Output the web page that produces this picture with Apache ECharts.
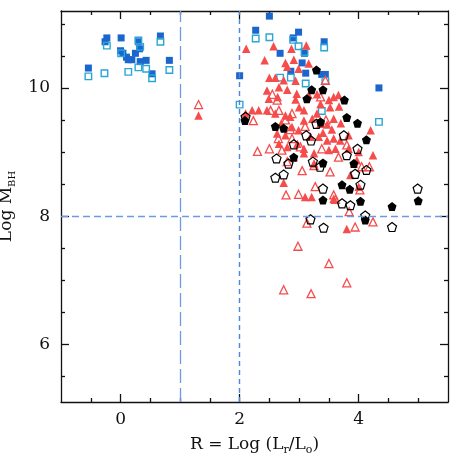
<!DOCTYPE html>
<html>
<head>
<meta charset="utf-8">
<script src="https://cdn.jsdelivr.net/npm/echarts@6/dist/echarts.min.js"></script>
<style>
  html, body { margin: 0; padding: 0; background: #fff; }
  #main { width: 458px; height: 458px; }
</style>
</head>
<body>
<div id="main"></div>
<script>
// tick values
var xMajor = [0, 2, 4];
var xMinor = [-0.5, 0.5, 1, 1.5, 2.5, 3, 3.5, 4.5, 5];
var yMajor = [6, 8, 10];
var yMinor = [5.5, 6.5, 7, 7.5, 8.5, 9, 9.5, 10.5, 11];

// filled blue squares
var blueFilled = [
  [-0.54, 10.31], [-0.26, 10.72], [-0.23, 10.78], [0.01, 10.78], [0.0, 10.58],
  [0.04, 10.54], [0.10, 10.48], [0.13, 10.44], [0.19, 10.44], [0.25, 10.54],
  [0.30, 10.72], [0.32, 10.61], [0.33, 10.41], [0.43, 10.43], [0.53, 10.22],
  [0.67, 10.81], [0.82, 10.43], [2.0, 10.19], [2.27, 10.90], [2.50, 11.12],
  [2.68, 10.54], [2.86, 10.26], [2.90, 10.78], [2.99, 10.87], [3.05, 10.39],
  [3.09, 10.54], [3.11, 10.23], [3.38, 10.21], [3.44, 10.21], [3.42, 10.72],
  [4.34, 10.0]
];
// open cyan squares
var cyanOpen = [
  [-0.54, 10.18], [-0.23, 10.66], [-0.27, 10.23], [0.13, 10.25], [0.30, 10.32],
  [0.43, 10.30], [0.53, 10.15], [0.67, 10.72], [0.82, 10.28], [0.01, 10.54],
  [0.33, 10.64], [0.30, 10.74], [2.0, 9.74], [2.27, 10.77], [2.50, 10.79],
  [2.68, 10.16], [2.86, 10.16], [2.90, 10.75], [2.99, 10.65], [3.09, 10.56],
  [3.11, 10.07], [3.42, 10.63], [3.44, 10.11], [3.38, 9.64], [4.34, 9.47]
];
// filled red triangles
var redFilled = [
  [2.11, 10.61], [2.57, 10.65], [2.42, 10.43], [2.87, 10.61], [3.12, 10.66],
  [2.91, 10.44], [2.77, 10.39], [2.80, 10.33], [2.99, 10.30], [3.16, 10.38],
  [2.50, 10.16], [2.60, 10.16], [2.74, 10.12], [2.94, 10.11], [2.66, 10.01],
  [2.80, 9.97], [2.46, 9.96], [2.49, 9.83], [2.64, 9.86], [2.94, 9.82],
  [2.96, 9.91], [3.16, 9.89], [3.30, 9.90], [3.50, 9.81], [3.58, 9.86],
  [3.66, 9.89], [3.67, 9.71], [3.52, 9.70], [3.36, 9.75], [1.31, 9.57],
  [2.10, 9.60], [2.21, 9.65], [2.32, 9.65], [2.46, 9.65], [2.60, 9.60],
  [2.77, 9.57], [2.85, 9.55], [3.08, 9.65], [3.22, 9.52], [3.36, 9.44],
  [3.47, 9.43], [3.58, 9.52], [2.63, 9.29], [2.77, 9.26], [2.88, 9.39],
  [2.99, 9.34], [3.08, 9.49], [3.19, 9.24], [3.33, 9.24], [3.47, 9.18],
  [3.58, 9.21], [3.69, 9.18], [3.83, 9.26], [4.20, 9.34], [2.66, 9.13],
  [2.80, 9.08], [2.97, 9.13], [3.08, 9.05], [3.25, 8.98], [3.50, 9.03],
  [3.61, 9.05], [3.83, 9.05], [4.00, 9.00], [2.91, 8.92], [3.08, 8.98],
  [3.97, 8.87], [4.24, 8.95], [3.25, 8.82], [3.92, 8.82], [3.86, 8.64],
  [2.74, 8.52], [4.00, 8.46], [3.10, 8.30], [3.21, 8.30], [3.80, 7.80],
  [3.58, 8.27], [3.40, 9.30], [3.55, 9.35], [3.70, 9.45], [3.30, 9.60],
  [2.70, 9.45], [3.00, 9.70]
];
// open red triangles
var redOpen = [
  [1.31, 9.74], [2.23, 9.49], [2.30, 9.01], [2.50, 9.05], [2.52, 9.65],
  [2.66, 9.65], [2.88, 9.60], [2.77, 9.50], [2.65, 9.21], [2.71, 9.03],
  [2.88, 9.21], [3.02, 9.08], [2.80, 8.85], [3.05, 8.71], [3.25, 8.79],
  [3.38, 9.05], [3.66, 8.92], [3.52, 8.69], [3.80, 9.11], [4.05, 8.77],
  [4.18, 8.77], [2.78, 8.33], [2.99, 8.34], [3.27, 8.46], [3.58, 8.33],
  [3.61, 8.26], [3.84, 8.07], [4.02, 8.41], [4.24, 7.91], [3.94, 7.83],
  [3.13, 7.89], [2.98, 7.53], [3.50, 7.26], [3.80, 6.96], [2.74, 6.85],
  [3.20, 6.79], [3.36, 9.86], [2.63, 9.81], [2.55, 9.90], [3.44, 10.12],
  [2.85, 9.35], [3.45, 9.50], [3.10, 9.40]
];
// filled black pentagons
var blackFilled = [
  [2.09, 9.49], [3.29, 10.28], [3.21, 9.97], [3.40, 9.97], [3.13, 9.83],
  [3.76, 9.81], [3.80, 9.54], [3.98, 9.45], [4.13, 9.19], [2.60, 9.40],
  [2.74, 9.37], [3.36, 9.47], [2.91, 8.92], [3.40, 8.83], [3.72, 8.49],
  [3.85, 8.42], [3.40, 8.25], [4.03, 8.23], [4.56, 8.15], [5.0, 8.24],
  [4.11, 7.94], [3.92, 8.82]
];
// open black pentagons
var blackOpen = [
  [2.10, 9.55], [3.29, 9.44], [3.12, 9.26], [3.20, 9.18], [2.91, 9.12],
  [3.75, 9.26], [3.80, 8.95], [3.98, 9.05], [3.94, 8.66], [4.13, 8.72],
  [2.62, 8.90], [2.82, 8.82], [2.60, 8.60], [2.74, 8.65], [3.23, 8.85],
  [3.35, 8.77], [3.40, 8.43], [4.03, 8.49], [3.72, 8.20], [3.86, 8.17],
  [4.11, 8.01], [3.19, 7.95], [3.41, 7.82], [4.56, 7.83], [4.99, 8.43]
];

var pentagon = 'path://M0,-10 L9.51,-3.09 L5.88,8.09 L-5.88,8.09 L-9.51,-3.09 Z';
var fontFam = '"DejaVu Serif", "Liberation Serif", serif';
var lineBlack = { color: '#111', width: 1.3 };

function tickAxis(pos, vals, len, opts) {
    var a = {
        type: 'value',
        position: pos,
        min: opts.min,
        max: opts.max,
        axisLine: { show: opts.line, onZero: false, lineStyle: lineBlack },
        axisTick: { show: true, inside: true, length: len, customValues: vals, lineStyle: lineBlack },
        axisLabel: { show: false },
        splitLine: { show: false }
    };
    return a;
}

var xr = { min: -1, max: 5.5 };
var yr = { min: 5.1, max: 11.2 };

var xMain = tickAxis('bottom', xMajor, 8, { min: xr.min, max: xr.max, line: true });
xMain.axisLabel = {
    show: true, customValues: xMajor, margin: 9,
    fontFamily: fontFam, fontSize: 17, color: '#111'
};
xMain.name = 'R = Log (L{s|r}/L{s|o})';
xMain.nameLocation = 'middle';
xMain.nameGap = 32;
xMain.nameTextStyle = {
    fontFamily: fontFam, fontSize: 17, color: '#111', lineHeight: 22,
    rich: { s: { fontFamily: fontFam, fontSize: 11, color: '#111', verticalAlign: 'bottom', lineHeight: 22 } }
};

var yMain = tickAxis('left', yMajor, 8, { min: yr.min, max: yr.max, line: true });
yMain.axisLabel = {
    show: true, customValues: yMajor, margin: 11,
    fontFamily: fontFam, fontSize: 17, color: '#111'
};
yMain.name = 'Log M{s|BH}';
yMain.nameLocation = 'middle';
yMain.nameGap = 36;
yMain.nameTextStyle = {
    fontFamily: fontFam, fontSize: 17, color: '#111', lineHeight: 22,
    rich: { s: { fontFamily: fontFam, fontSize: 10, color: '#111', verticalAlign: 'bottom', lineHeight: 22 } }
};

var myChart = echarts.init(document.getElementById('main'), null, { renderer: 'canvas' });
var option = {
    backgroundColor: '#fff',
    animation: false,
    grid: { left: 61, right: 10, top: 11, bottom: 56, outerBoundsMode: 'none', containLabel: false },
    xAxis: [
        xMain,
        tickAxis('bottom', xMinor, 4, { min: xr.min, max: xr.max, line: false }),
        tickAxis('top', xMajor, 8, { min: xr.min, max: xr.max, line: true }),
        tickAxis('top', xMinor, 4, { min: xr.min, max: xr.max, line: false })
    ],
    yAxis: [
        yMain,
        tickAxis('left', yMinor, 4, { min: yr.min, max: yr.max, line: false }),
        tickAxis('right', yMajor, 8, { min: yr.min, max: yr.max, line: true }),
        tickAxis('right', yMinor, 4, { min: yr.min, max: yr.max, line: false })
    ],
    series: [
        {
            type: 'scatter',
            data: [],
            z: 1,
            markLine: {
                silent: true,
                symbol: 'none',
                label: { show: false },
                data: [
                    { xAxis: 1, lineStyle: { color: '#6c9be0', width: 1.3, type: [14, 5] } },
                    { xAxis: 2, lineStyle: { color: '#4a86dc', width: 1.4, type: [5, 4] } },
                    { yAxis: 8, lineStyle: { color: '#6c9be0', width: 1.3, type: [7, 4] } }
                ]
            }
        },
        {
            name: 'blueFilled', type: 'scatter', data: blueFilled, symbol: 'rect', symbolSize: 7,
            itemStyle: { color: '#1a66cc', opacity: 1 }
        },
        {
            name: 'cyanOpen', type: 'scatter', data: cyanOpen, symbol: 'rect', symbolSize: 6.5,
            itemStyle: { color: 'rgba(0,0,0,0)', borderColor: '#2aa6d6', borderWidth: 1.4, opacity: 1 }
        },
        {
            name: 'redFilled', type: 'scatter', data: redFilled, symbol: 'triangle', symbolSize: 8.5,
            itemStyle: { color: '#f64c4c', opacity: 1 }
        },
        {
            name: 'redOpen', type: 'scatter', data: redOpen, symbol: 'triangle', symbolSize: 8,
            itemStyle: { color: 'rgba(0,0,0,0)', borderColor: '#f64c4c', borderWidth: 1.3, opacity: 1 }
        },
        {
            name: 'blackFilled', type: 'scatter', data: blackFilled, symbol: pentagon, symbolSize: 9,
            itemStyle: { color: '#000', opacity: 1 }
        },
        {
            name: 'blackOpen', type: 'scatter', data: blackOpen, symbol: pentagon, symbolSize: 9,
            itemStyle: { color: 'rgba(0,0,0,0)', borderColor: '#000', borderWidth: 1.2, opacity: 1 }
        }
    ]
};
myChart.setOption(option);
</script>
</body>
</html>
